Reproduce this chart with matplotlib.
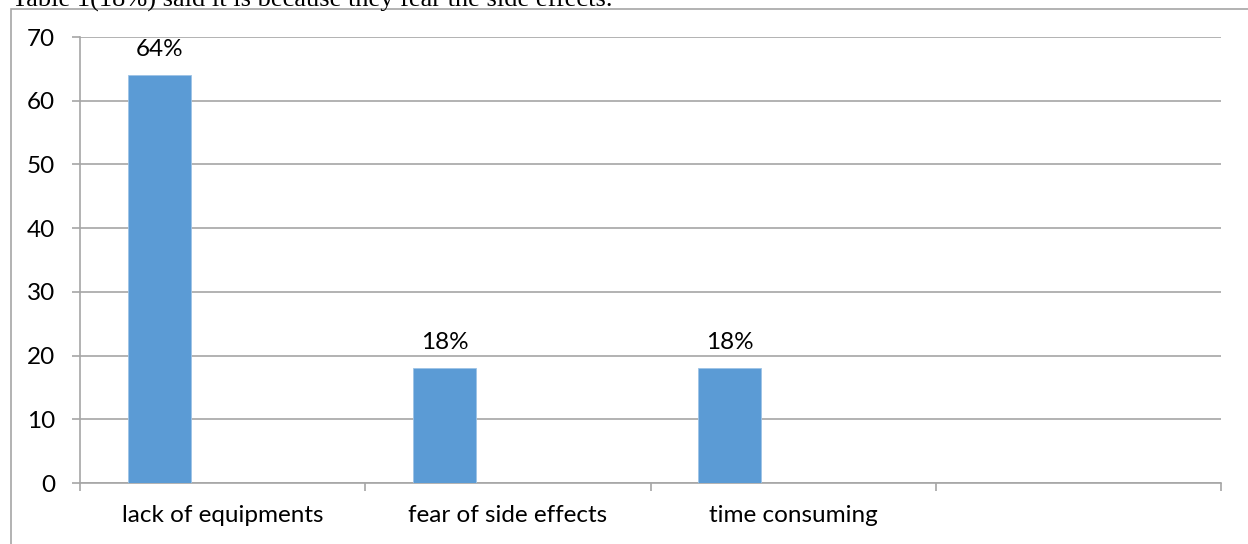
import matplotlib.pyplot as plt
from matplotlib.patches import Rectangle

categories = ["lack of equipments", "fear of side effects", "time consuming", ""]
values = [64, 18, 18, None]
value_labels = ["64%", "18%", "18%", ""]
y_ticks = [0, 10, 20, 30, 40, 50, 60, 70]
caption = "Table 1(18%) said it is because they fear the side effects."

bar_color = "#5B9BD5"
grid_color = "#A6A6A6"
font = ["Lato", "DejaVu Sans"]
fs = 17.5

fig = plt.figure(figsize=(12.48, 5.44), dpi=100)
ax = fig.add_axes([80 / 1248, 1 - 483 / 544, (1221 - 80) / 1248, (483 - 37) / 544])

# Clustered-column layout: first of three series slots, 150% gap width
width = 1 / 4.5
offset = -width
for i, (v, lab) in enumerate(zip(values, value_labels)):
    if v is None:
        continue
    ax.bar(i + offset, v, width=width, color=bar_color, edgecolor="#9DC3E6",
           linewidth=0.6, zorder=3)
    ax.annotate(lab, (i + offset, v), xytext=(0, 11), textcoords="offset points",
                ha="center", va="bottom", fontsize=fs, family=font, color="#000000")

ax.set_xlim(-0.5, len(categories) - 0.5)
ax.set_ylim(0, 70)
ax.set_yticks(y_ticks)
ax.set_yticklabels([str(t) for t in y_ticks], family=font, fontsize=fs)
ax.yaxis.grid(True, color=grid_color, linewidth=1.2, zorder=0)

# Category labels at slot centres, tick marks at slot boundaries
ax.set_xticks(range(len(categories)))
ax.set_xticklabels(categories, family=font, fontsize=fs)
ax.tick_params(axis="x", length=0, pad=16)
ax.set_xticks([i - 0.5 for i in range(len(categories) + 1)], minor=True)
ax.tick_params(axis="x", which="minor", length=6, width=1.2, color=grid_color)
ax.tick_params(axis="y", length=6, width=1.2, color=grid_color, pad=12)

for side in ["top", "right"]:
    ax.spines[side].set_visible(False)
for side in ["left", "bottom"]:
    ax.spines[side].set_color(grid_color)
    ax.spines[side].set_linewidth(1.2)

# Outer chart frame
fig.patches.append(Rectangle((11 / 1248, -0.05), 1.2, 1 - 9 / 544 + 0.05,
                             transform=fig.transFigure, fill=False,
                             edgecolor=grid_color, linewidth=1.2))

fig.text(12 / 1248, 1 - 7 / 544, caption, family=["Liberation Serif"], fontsize=19,
         ha="left", va="baseline")

fig.savefig("out.png", dpi=100)
